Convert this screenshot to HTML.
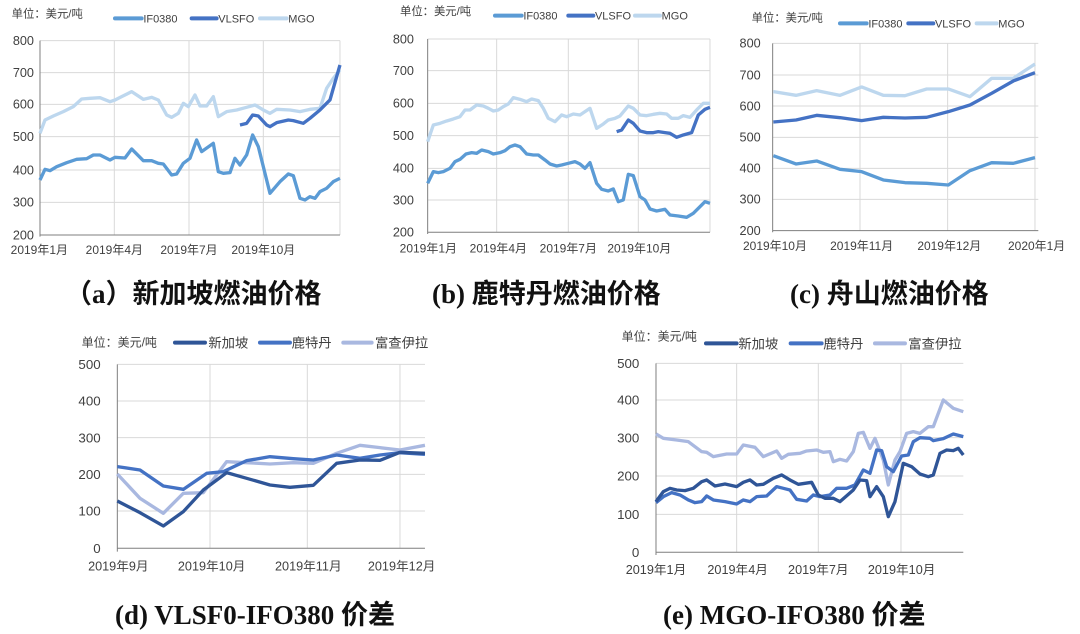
<!DOCTYPE html>
<html><head><meta charset="utf-8"><style>
html,body{margin:0;padding:0;background:#fff;}
svg{display:block;}
.t{font-family:"Liberation Sans","Noto Sans CJK SC",sans-serif;fill:#404040;}
.cap{font-family:"Liberation Serif","Noto Sans CJK SC",serif;font-weight:bold;fill:#111;font-size:27px;}
</style></head><body>
<svg width="1080" height="634" viewBox="0 0 1080 634" xmlns="http://www.w3.org/2000/svg">
<rect width="1080" height="634" fill="#fff"/>

<!-- Panel a -->
<g transform="translate(0,0) scale(0.3333)">
 <g stroke="#d9d9d9" stroke-width="3">
  <line x1="120" x2="1020" y1="122" y2="122"/><line x1="120" x2="1020" y1="218" y2="218"/><line x1="120" x2="1020" y1="313" y2="313"/><line x1="120" x2="1020" y1="410" y2="410"/><line x1="120" x2="1020" y1="510" y2="510"/><line x1="120" x2="1020" y1="607" y2="607"/>
  <line x1="343" x2="343" y1="122" y2="705"/><line x1="567" x2="567" y1="122" y2="705"/><line x1="790" x2="790" y1="122" y2="705"/><line x1="1020" x2="1020" y1="122" y2="705"/>
 </g>
 <line x1="120" x2="120" y1="122" y2="710" stroke="#7f7f7f" stroke-width="3"/>
 <line x1="120" x2="1020" y1="705" y2="705" stroke="#7f7f7f" stroke-width="3"/>
 <g class="t" font-size="38" text-anchor="end"><text x="102" y="135">800</text><text x="102" y="231">700</text><text x="102" y="326">600</text><text x="102" y="423">500</text><text x="102" y="523">400</text><text x="102" y="620">300</text><text x="102" y="718">200</text></g>
 <g class="t" font-size="36" text-anchor="middle"><text x="118" y="762">2019年1月</text><text x="343" y="762">2019年4月</text><text x="567" y="762">2019年7月</text><text x="790" y="762">2019年10月</text></g>
 <text class="t" x="35" y="52" font-size="34">单位：美元/吨</text>
 <line x1="345" x2="425" y1="55" y2="55" stroke="#5b9bd5" stroke-width="12" stroke-linecap="round"/><text class="t" x="430" y="67" font-size="33">IF0380</text>
 <line x1="575" x2="650" y1="55" y2="55" stroke="#4472c4" stroke-width="12" stroke-linecap="round"/><text class="t" x="655" y="67" font-size="33">VLSFO</text>
 <line x1="780" x2="860" y1="55" y2="55" stroke="#bdd7ee" stroke-width="12" stroke-linecap="round"/><text class="t" x="865" y="67" font-size="33">MGO</text>
 <g fill="none" stroke-width="10" stroke-linejoin="round">
 <polyline stroke="#bdd7ee" points="120,400 135,360 160,348 190,335 220,320 245,297 270,295 300,293 330,305 345,300 365,290 395,275 430,298 455,292 475,300 500,345 515,352 535,340 550,310 565,320 585,285 600,318 620,318 640,290 655,350 680,335 710,330 740,322 765,315 790,330 810,340 830,328 870,330 900,335 930,328 960,325 980,265 1000,235 1020,210"/>
 <polyline stroke="#4472c4" points="720,375 740,370 758,345 775,348 800,375 810,380 830,368 865,360 880,362 910,370 930,355 960,330 990,300 1020,195"/>
 <polyline stroke="#5b9bd5" points="120,540 135,508 150,512 170,500 200,488 230,478 260,476 280,465 300,465 330,480 345,472 375,474 395,447 430,482 455,482 475,490 490,492 515,525 530,522 550,490 570,475 590,420 605,455 640,430 655,515 670,520 690,518 705,475 720,495 740,465 758,405 775,440 810,580 840,545 865,522 880,527 900,595 915,600 930,590 945,595 960,575 980,565 1000,545 1020,535"/>
 </g>
</g>

<!-- Panel b -->
<g transform="translate(380,0) scale(0.3333)">
 <g stroke="#d9d9d9" stroke-width="3">
  <line x1="143" x2="990" y1="117" y2="117"/><line x1="143" x2="990" y1="212" y2="212"/><line x1="143" x2="990" y1="310" y2="310"/><line x1="143" x2="990" y1="407" y2="407"/><line x1="143" x2="990" y1="505" y2="505"/><line x1="143" x2="990" y1="600" y2="600"/>
  <line x1="350" x2="350" y1="117" y2="697"/><line x1="565" x2="565" y1="117" y2="697"/><line x1="775" x2="775" y1="117" y2="697"/><line x1="990" x2="990" y1="117" y2="697"/>
 </g>
 <line x1="143" x2="143" y1="117" y2="702" stroke="#7f7f7f" stroke-width="3"/>
 <line x1="143" x2="990" y1="697" y2="697" stroke="#7f7f7f" stroke-width="3"/>
 <g class="t" font-size="38" text-anchor="end"><text x="102" y="130">800</text><text x="102" y="225">700</text><text x="102" y="323">600</text><text x="102" y="420">500</text><text x="102" y="518">400</text><text x="102" y="613">300</text><text x="102" y="710">200</text></g>
 <g class="t" font-size="36" text-anchor="middle"><text x="145" y="757">2019年1月</text><text x="355" y="757">2019年4月</text><text x="565" y="757">2019年7月</text><text x="778" y="757">2019年10月</text></g>
 <text class="t" x="60" y="45" font-size="34">单位：美元/吨</text>
 <line x1="345" x2="425" y1="47" y2="47" stroke="#5b9bd5" stroke-width="12" stroke-linecap="round"/><text class="t" x="430" y="59" font-size="33">IF0380</text>
 <line x1="565" x2="640" y1="47" y2="47" stroke="#4472c4" stroke-width="12" stroke-linecap="round"/><text class="t" x="645" y="59" font-size="33">VLSFO</text>
 <line x1="765" x2="840" y1="47" y2="47" stroke="#bdd7ee" stroke-width="12" stroke-linecap="round"/><text class="t" x="845" y="59" font-size="33">MGO</text>
 <g fill="none" stroke-width="10" stroke-linejoin="round">
 <polyline stroke="#bdd7ee" points="143,425 160,375 180,370 200,363 220,357 240,350 255,330 270,330 290,315 310,318 325,325 340,333 355,330 370,320 385,312 400,293 420,298 440,305 455,297 475,302 490,325 505,355 525,365 545,345 560,350 580,342 600,345 615,335 630,325 650,385 670,372 685,360 705,355 720,348 745,318 760,325 780,345 800,347 820,343 840,340 860,342 875,355 895,355 910,347 930,352 950,330 970,310 990,310"/>
 <polyline stroke="#4472c4" points="710,395 725,390 745,360 760,370 780,393 800,398 820,398 835,395 855,398 870,400 890,412 910,405 935,398 955,345 975,328 990,322"/>
 <polyline stroke="#5b9bd5" points="143,550 160,515 175,518 190,515 210,505 225,485 240,478 258,462 275,458 290,460 305,450 325,455 340,462 360,458 375,452 390,440 405,435 420,440 440,462 460,465 475,465 495,480 510,492 530,498 545,495 565,490 585,485 600,492 615,505 630,488 650,550 665,568 685,573 700,567 715,605 730,600 745,523 760,527 780,590 795,600 810,627 830,633 855,628 870,645 895,648 920,652 940,640 960,620 975,605 990,610"/>
 </g>
</g>

<!-- Panel c -->
<g transform="translate(720,0) scale(0.3333)">
 <g stroke="#d9d9d9" stroke-width="3">
  <line x1="158" x2="955" y1="130" y2="130"/><line x1="158" x2="955" y1="225" y2="225"/><line x1="158" x2="955" y1="318" y2="318"/><line x1="158" x2="955" y1="412" y2="412"/><line x1="158" x2="955" y1="505" y2="505"/><line x1="158" x2="955" y1="598" y2="598"/>
  <line x1="420" x2="420" y1="130" y2="692"/><line x1="683" x2="683" y1="130" y2="692"/><line x1="945" x2="945" y1="130" y2="692"/>
 </g>
 <line x1="158" x2="158" y1="130" y2="697" stroke="#7f7f7f" stroke-width="3"/>
 <line x1="158" x2="955" y1="692" y2="692" stroke="#7f7f7f" stroke-width="3"/>
 <g class="t" font-size="38" text-anchor="end"><text x="122" y="143">800</text><text x="122" y="238">700</text><text x="122" y="331">600</text><text x="122" y="425">500</text><text x="122" y="518">400</text><text x="122" y="611">300</text><text x="122" y="705">200</text></g>
 <g class="t" font-size="36" text-anchor="middle"><text x="165" y="750">2019年10月</text><text x="425" y="750">2019年11月</text><text x="688" y="750">2019年12月</text><text x="950" y="750">2020年1月</text></g>
 <text class="t" x="95" y="65" font-size="34">单位：美元/吨</text>
 <line x1="360" x2="440" y1="70" y2="70" stroke="#5b9bd5" stroke-width="12" stroke-linecap="round"/><text class="t" x="445" y="82" font-size="33">IF0380</text>
 <line x1="565" x2="640" y1="70" y2="70" stroke="#4472c4" stroke-width="12" stroke-linecap="round"/><text class="t" x="645" y="82" font-size="33">VLSFO</text>
 <line x1="770" x2="830" y1="70" y2="70" stroke="#bdd7ee" stroke-width="12" stroke-linecap="round"/><text class="t" x="835" y="82" font-size="33">MGO</text>
 <g fill="none" stroke-width="10" stroke-linejoin="round">
 <polyline stroke="#bdd7ee" points="160,275 228,286 290,272 360,286 425,261 490,286 555,287 620,267 685,267 750,290 815,235 880,235 945,192"/>
 <polyline stroke="#4472c4" points="160,366 228,360 290,346 360,353 425,362 490,352 555,354 620,352 685,335 750,315 815,280 880,243 945,218"/>
 <polyline stroke="#5b9bd5" points="160,467 228,492 290,483 360,508 425,515 490,540 555,548 620,550 685,555 750,512 815,488 880,490 945,473"/>
 </g>
</g>

<!-- Panel d -->
<g transform="translate(60,320) scale(0.3333)">
 <g stroke="#d9d9d9" stroke-width="3">
  <line x1="172" x2="1095" y1="133" y2="133"/><line x1="172" x2="1095" y1="243" y2="243"/><line x1="172" x2="1095" y1="353" y2="353"/><line x1="172" x2="1095" y1="463" y2="463"/><line x1="172" x2="1095" y1="573" y2="573"/>
  <line x1="450" x2="450" y1="133" y2="685"/><line x1="742" x2="742" y1="133" y2="685"/><line x1="1020" x2="1020" y1="133" y2="685"/>
 </g>
 <line x1="172" x2="172" y1="133" y2="695" stroke="#7f7f7f" stroke-width="3"/>
 <line x1="172" x2="1095" y1="685" y2="685" stroke="#7f7f7f" stroke-width="3"/>
 <g class="t" font-size="40" text-anchor="end"><text x="122" y="147">500</text><text x="122" y="257">400</text><text x="122" y="367">300</text><text x="122" y="477">200</text><text x="122" y="587">100</text><text x="122" y="699">0</text></g>
 <g class="t" font-size="38" text-anchor="middle"><text x="175" y="752">2019年9月</text><text x="455" y="752">2019年10月</text><text x="745" y="752">2019年11月</text><text x="1025" y="752">2019年12月</text></g>
 <text class="t" x="65" y="80" font-size="36">单位：美元/吨</text>
 <line x1="345" x2="435" y1="68" y2="68" stroke="#2f5597" stroke-width="12" stroke-linecap="round"/><text class="t" x="445" y="83" font-size="40">新加坡</text>
 <line x1="600" x2="690" y1="68" y2="68" stroke="#4472c4" stroke-width="12" stroke-linecap="round"/><text class="t" x="695" y="83" font-size="40">鹿特丹</text>
 <line x1="850" x2="935" y1="68" y2="68" stroke="#a9b8e0" stroke-width="12" stroke-linecap="round"/><text class="t" x="945" y="83" font-size="40">富查伊拉</text>
 <g fill="none" stroke-width="10" stroke-linejoin="round">
 <polyline stroke="#a9b8e0" points="172,462 240,535 310,580 370,520 430,518 500,425 560,428 630,432 700,428 760,430 830,400 900,376 960,383 1020,390 1095,376"/>
 <polyline stroke="#4472c4" points="172,440 240,450 310,498 370,508 440,460 490,455 560,422 630,410 700,416 760,420 830,405 900,415 960,405 1020,398 1095,403"/>
 <polyline stroke="#2f5597" points="172,543 240,578 310,618 370,575 430,510 500,458 560,475 630,495 690,502 760,496 830,430 900,420 960,421 1020,397 1095,400"/>
 </g>
</g>

<!-- Panel e -->
<g transform="translate(600,320) scale(0.3333)">
 <g stroke="#d9d9d9" stroke-width="3">
  <line x1="168" x2="1090" y1="130" y2="130"/><line x1="168" x2="1090" y1="240" y2="240"/><line x1="168" x2="1090" y1="353" y2="353"/><line x1="168" x2="1090" y1="468" y2="468"/><line x1="168" x2="1090" y1="583" y2="583"/>
  <line x1="410" x2="410" y1="130" y2="697"/><line x1="655" x2="655" y1="130" y2="697"/><line x1="903" x2="903" y1="130" y2="697"/>
 </g>
 <line x1="168" x2="168" y1="130" y2="705" stroke="#7f7f7f" stroke-width="3"/>
 <line x1="168" x2="1090" y1="697" y2="697" stroke="#7f7f7f" stroke-width="3"/>
 <g class="t" font-size="40" text-anchor="end" fill="#595959"><text x="118" y="144">500</text><text x="118" y="254">400</text><text x="118" y="367">300</text><text x="118" y="482">200</text><text x="118" y="597">100</text><text x="118" y="711">0</text></g>
 <g class="t" font-size="38" text-anchor="middle"><text x="168" y="762">2019年1月</text><text x="413" y="762">2019年4月</text><text x="655" y="762">2019年7月</text><text x="905" y="762">2019年10月</text></g>
 <text class="t" x="65" y="62" font-size="36">单位：美元/吨</text>
 <line x1="318" x2="410" y1="70" y2="70" stroke="#2f5597" stroke-width="12" stroke-linecap="round"/><text class="t" x="415" y="86" font-size="40">新加坡</text>
 <line x1="572" x2="665" y1="70" y2="70" stroke="#4472c4" stroke-width="12" stroke-linecap="round"/><text class="t" x="670" y="86" font-size="40">鹿特丹</text>
 <line x1="825" x2="915" y1="70" y2="70" stroke="#a9b8e0" stroke-width="12" stroke-linecap="round"/><text class="t" x="925" y="86" font-size="40">富查伊拉</text>
 <g fill="none" stroke-width="10" stroke-linejoin="round">
 <polyline stroke="#a9b8e0" points="168,342 190,355 230,360 265,365 305,395 320,397 340,410 380,402 410,402 430,375 465,382 490,410 530,393 545,415 565,403 600,400 620,393 650,390 670,397 690,395 700,425 720,418 740,423 760,395 775,340 790,337 810,385 825,355 850,420 865,495 885,420 900,395 920,340 940,335 960,340 985,320 1000,320 1030,240 1060,265 1090,275"/>
 <polyline stroke="#4472c4" points="168,548 190,530 215,518 240,525 265,540 285,548 305,545 320,528 340,540 375,545 410,552 430,540 450,545 470,530 500,528 530,500 550,505 570,510 590,538 620,543 640,525 660,530 690,525 710,505 740,505 765,495 790,450 810,460 830,390 845,392 860,440 880,455 905,408 925,405 940,365 960,353 990,355 1000,362 1030,356 1060,342 1090,350"/>
 <polyline stroke="#2f5597" points="168,545 190,515 210,505 230,510 255,512 280,505 305,485 320,480 345,498 375,492 410,500 430,487 450,480 470,495 490,493 520,475 545,465 570,480 595,493 635,487 655,525 675,535 700,535 720,545 760,510 780,480 800,482 810,530 830,500 850,530 865,590 885,545 910,430 935,440 960,462 985,470 1000,465 1020,400 1040,390 1060,392 1075,385 1090,405"/>
 </g>
</g>

<!-- Captions -->
<text class="cap" x="65" y="303">（a）新加坡燃油价格</text>
<text class="cap" x="432" y="303">(b) 鹿特丹燃油价格</text>
<text class="cap" x="790" y="303">(c) 舟山燃油价格</text>
<text class="cap" x="115" y="624">(d) VLSF0-IFO380 价差</text>
<text class="cap" x="663" y="624">(e) MGO-IFO380 价差</text>
</svg>
</body></html>
